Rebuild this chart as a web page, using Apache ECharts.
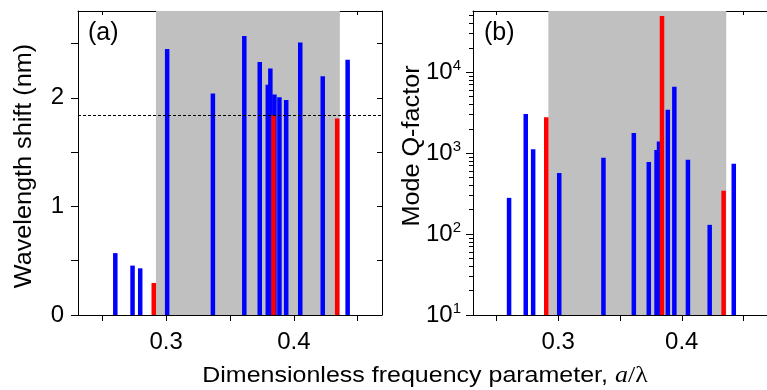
<!DOCTYPE html>
<html>
<head>
<meta charset="utf-8">
<script src="https://cdn.jsdelivr.net/npm/echarts@6/dist/echarts.min.js"></script>
<style>
html,body{margin:0;padding:0;background:#fff;}
#chart{width:767px;height:390px;}
</style>
</head>
<body>
<div id="chart"></div>
<script>
// ---- data ----
const modeFreq  = [0.2602, 0.2737, 0.2797, 0.2903, 0.3008, 0.3366, 0.3612, 0.3733, 0.3796, 0.3816, 0.3840, 0.3848, 0.3887, 0.3940, 0.4050, 0.4226, 0.4339, 0.4421];
const modeType  = ['b','b','b','r','b','b','b','b','b','b','r','b','b','b','b','b','r','b'];
const waveShift = [0.57, 0.455, 0.43, 0.295, 2.45, 2.04, 2.57, 2.33, 2.12, 2.27, 1.84, 2.03, 2.005, 1.98, 2.51, 2.20, 1.81, 2.35];
const qFactor   = [280, 3050, 1120, 2780, 570, 875, 1770, 775, 1090, 1390, 49500, null, 3430, 6590, 826, 130, 343, 738];
const bandGap   = [0.292, 0.436];
const shiftRef  = 1.84;
const xRange    = [0.231, 0.469];
const xTicks    = [0.25, 0.3, 0.35, 0.4, 0.45];
const xLabels   = [0.3, 0.4];
const yRangeA   = [0, 2.8];
const yTicksA   = [0, 0.5, 1, 1.5, 2, 2.5];
const yLabelsA  = [0, 1, 2];
const yRangeB   = [10, 57000];
const yMajorB   = [10, 100, 1000, 10000];
const yMinorB   = [20,30,40,50,60,70,80,90,200,300,400,500,600,700,800,900,2000,3000,4000,5000,6000,7000,8000,9000,20000,30000,40000,50000];

const FONT = "'Liberation Sans', Arial, sans-serif";
const pick = (vals, t) => modeFreq.map((f,i)=> modeType[i]===t && vals[i]!=null ? [f, vals[i]] : null).filter(d=>d);

const black = '#000';
function bottomX(grid){
  return {type:'value', gridIndex:grid, min:xRange[0], max:xRange[1], position:'bottom',
    axisLine:{show:true, onZero:false, lineStyle:{color:black,width:1}},
    axisTick:{show:true, inside:false, length:6, customValues:xTicks, lineStyle:{color:black}},
    axisLabel:{show:true, customValues:xLabels, formatter:v=>Number(v).toFixed(1), fontSize:24, fontFamily:FONT, color:black, margin:15},
    splitLine:{show:false}};
}
function topX(grid){
  return {type:'value', gridIndex:grid, min:xRange[0], max:xRange[1], position:'top',
    axisLine:{show:true, onZero:false, lineStyle:{color:black,width:1}},
    axisTick:{show:true, inside:true, length:4, customValues:xTicks, lineStyle:{color:black}},
    axisLabel:{show:false}, splitLine:{show:false}};
}

const option = {
  animation:false,
  grid:[
    {left:78, top:11, width:304, height:304},
    {left:473, top:11, width:303, height:304}
  ],
  xAxis:[bottomX(0), topX(0), bottomX(1), topX(1)],
  yAxis:[
    {type:'value', gridIndex:0, min:yRangeA[0], max:yRangeA[1], position:'left',
      axisLine:{show:true, onZero:false, lineStyle:{color:black}},
      axisTick:{show:true, length:7, customValues:yTicksA, lineStyle:{color:black}},
      axisLabel:{show:true, customValues:yLabelsA, fontSize:24, fontFamily:FONT, color:black, margin:14},
      splitLine:{show:false}},
    {type:'value', gridIndex:0, min:yRangeA[0], max:yRangeA[1], position:'right',
      axisLine:{show:true, onZero:false, lineStyle:{color:black}},
      axisTick:{show:true, inside:true, length:5, customValues:yTicksA, lineStyle:{color:black}},
      axisLabel:{show:false}, splitLine:{show:false}},
    {type:'log', logBase:10, gridIndex:1, min:yRangeB[0], max:yRangeB[1], position:'left',
      axisLine:{show:true, onZero:false, lineStyle:{color:black}},
      axisTick:{show:true, length:7, customValues:yMajorB, lineStyle:{color:black}},
      axisLabel:{show:true, customValues:yMajorB, fontFamily:FONT, color:black, margin:12,
        formatter:v=>'{b|10}{s|'+Math.round(Math.log10(v))+'}',
        rich:{b:{fontSize:24, fontFamily:FONT, color:black}, s:{fontSize:15, fontFamily:FONT, color:black, padding:[0,0,12,0]}}},
      splitLine:{show:false}},
    {type:'log', logBase:10, gridIndex:1, min:yRangeB[0], max:yRangeB[1], position:'left',
      axisLine:{show:false},
      axisTick:{show:true, length:4, customValues:yMinorB, lineStyle:{color:black}},
      axisLabel:{show:false}, splitLine:{show:false}}
  ],
  graphic:[
    {type:'text', x:88, y:33, style:{text:'(a)', font:'25px '+FONT, fill:black, align:'left', verticalAlign:'middle'}},
    {type:'text', x:484, y:33, style:{text:'(b)', font:'25px '+FONT, fill:black, align:'left', verticalAlign:'middle'}},
    {type:'text', x:24, y:166, rotation:Math.PI/2, scaleX:0.97, scaleY:0.92,
      style:{text:'Wavelength shift (nm)', font:'26px '+FONT, fill:black, align:'center', verticalAlign:'middle'}},
    {type:'text', x:412, y:146, rotation:Math.PI/2, scaleX:0.97, scaleY:0.92,
      style:{text:'Mode Q-factor', font:'26px '+FONT, fill:black, align:'center', verticalAlign:'middle'}},
    {type:'text', x:425, y:376, scaleY:0.9,
      style:{text:'Dimensionless frequency parameter, {i|a}{g|/λ}', font:'25px '+FONT, fill:black, align:'center', verticalAlign:'middle',
        rich:{i:{fontFamily:"'Liberation Serif', 'Times New Roman', serif", fontStyle:'italic', fontSize:26, fill:black},
              g:{fontFamily:"'Liberation Serif', 'Times New Roman', serif", fontSize:26, fill:black}}}}
  ],
  series:[
    {type:'line', xAxisIndex:0, yAxisIndex:0, data:[], z:1, silent:true,
      markArea:{silent:true, itemStyle:{color:'#c0c0c0', opacity:1}, data:[[{xAxis:bandGap[0]},{xAxis:bandGap[1]}]]}},
    {type:'bar', xAxisIndex:0, yAxisIndex:0, data:pick(waveShift,'b'), barWidth:4.5, barGap:'-100%', z:3,
      itemStyle:{color:'#0000ff'}},
    {type:'bar', xAxisIndex:0, yAxisIndex:0, data:pick(waveShift,'r'), barWidth:4.5, barGap:'-100%', z:4,
      itemStyle:{color:'#ff0000'},
      markLine:{silent:true, symbol:'none', label:{show:false},
        lineStyle:{color:black, width:1, type:[3,2]}, data:[{yAxis:shiftRef}]}},
    {type:'line', xAxisIndex:2, yAxisIndex:2, data:[], z:1, silent:true,
      markArea:{silent:true, itemStyle:{color:'#c0c0c0', opacity:1}, data:[[{xAxis:bandGap[0]},{xAxis:bandGap[1]}]]}},
    {type:'bar', xAxisIndex:2, yAxisIndex:2, data:pick(qFactor,'b'), barWidth:4.5, barGap:'-100%', z:3, clip:true,
      itemStyle:{color:'#0000ff'}},
    {type:'bar', xAxisIndex:2, yAxisIndex:2, data:pick(qFactor,'r'), barWidth:4.5, barGap:'-100%', z:4, clip:true,
      itemStyle:{color:'#ff0000'}}
  ]
};
const chart = echarts.init(document.getElementById('chart'), null, {renderer:'canvas'});
chart.setOption(option);
</script>
</body>
</html>
